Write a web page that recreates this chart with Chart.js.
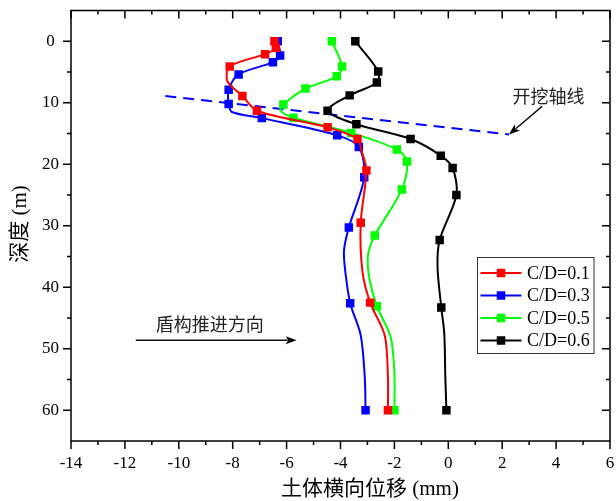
<!DOCTYPE html>
<html>
<head>
<meta charset="utf-8">
<script src="https://cdn.jsdelivr.net/npm/chart.js@4/dist/chart.umd.min.js"></script>
<style>
  html, body { margin: 0; padding: 0; background: #fff; }
  #wrap { width: 616px; height: 501px; position: relative; }
</style>
</head>
<body>
<div id="wrap"><canvas id="c" width="616" height="501"></canvas></div>
<script>
// Lateral soil displacement (mm) against depth (m) for four cover ratios.
const seriesLabels = ['C/D=0.1', 'C/D=0.3', 'C/D=0.5', 'C/D=0.6'];
const seriesColors = ['#ff0000', '#0000ff', '#00ff00', '#000000'];

// C/D = 0.1
const depth01 = [0, 1.1, 2.1, 4.1, 6.5, 8.9, 11.3, 14.0, 15.9, 17.8, 21.0, 29.5, 37.3, 42.5, 47.8, 54.6, 60];
const disp01  = [-6.45, -6.4, -6.8, -8.11, -8.2, -7.64, -7.1, -4.48, -3.37, -3.22, -3.04, -3.25, -3.19, -2.9, -2.36, -2.24, -2.24];
const mark01  = [1, 1, 1, 1, 0, 1, 1, 1, 1, 0, 1, 1, 0, 1, 0, 0, 1];

// C/D = 0.3
const depth03 = [0, 2.3, 3.4, 5.4, 7.9, 10.2, 11.5, 12.5, 15.3, 17.2, 22.1, 30.3, 34.0, 37.5, 42.6, 47.8, 54.6, 60];
const disp03  = [-6.33, -6.24, -6.51, -7.78, -8.15, -8.15, -8.03, -6.92, -4.12, -3.32, -3.12, -3.69, -3.87, -3.82, -3.64, -3.25, -3.1, -3.07];
const mark03  = [1, 1, 1, 1, 1, 1, 0, 1, 1, 1, 1, 1, 0, 0, 1, 0, 0, 1];

// C/D = 0.5
const depth05 = [0, 4.1, 5.7, 7.7, 10.3, 11.3, 12.45, 14.9, 17.6, 19.55, 24.1, 31.6, 34.8, 38.5, 43.1, 48.1, 54, 60];
const disp05  = [-4.32, -3.94, -4.14, -5.3, -6.12, -6.22, -5.75, -3.6, -1.91, -1.53, -1.72, -2.73, -2.98, -2.93, -2.65, -2.14, -2.0, -2.0];
const mark05  = [1, 1, 1, 1, 1, 0, 1, 1, 1, 1, 1, 1, 0, 0, 1, 0, 0, 1];

// C/D = 0.6
const depth06 = [0, 4.9, 6.7, 8.8, 11.3, 13.5, 15.9, 18.6, 20.6, 25.0, 32.3, 36.7, 43.3, 47.5, 54.6, 60];
const disp06  = [-3.45, -2.6, -2.65, -3.66, -4.48, -3.41, -1.4, -0.28, 0.16, 0.3, -0.32, -0.4, -0.26, -0.15, -0.11, -0.07];
const mark06  = [1, 1, 1, 1, 1, 1, 1, 1, 1, 1, 1, 0, 1, 0, 0, 1];

// Tunnel excavation axis (dashed) end points: [displacement, depth]
const axisLineX = [-10.5, 2.25];
const axisLineY = [8.9, 15.15];

// Axis ranges and tick steps
const xMin = -14, xMax = 6, xMinorStep = 1, xMajorStep = 2;
const yMin = -5, yMax = 65, yMinorStep = 5, yMajorStep = 10, yLabelMin = 0, yLabelMax = 60;

// Annotations (data units)
const advanceArrow = { from: [-11.6, 48.6], to: [-5.63, 48.6] };
const advanceText = { text: '盾构推进方向', at: [-8.85, 46.35] };
const axisArrow = { from: [3.48, 10.6], to: [2.25, 15.15] };
const axisText = { text: '开挖轴线', at: [3.72, 9.3] };

const xTitle = '土体横向位移 (mm)';
const yTitle = '深度 (m)';

const SERIF = '"Liberation Serif", "Times New Roman", "Noto Sans CJK SC", serif';
const CJK = '"Liberation Serif", "Noto Sans CJK SC", serif';

function makeSeries(i, xs, ys, marks) {
  return {
    label: seriesLabels[i],
    data: xs.map((v, k) => ({ x: v, y: ys[k] })),
    showLine: true,
    borderColor: seriesColors[i],
    backgroundColor: seriesColors[i],
    borderWidth: 2,
    tension: 0.3,
    pointStyle: 'rect',
    pointRadius: marks.map(m => (m ? 6 : 0)),
    pointBorderWidth: 0,
    pointBackgroundColor: seriesColors[i],
    pointHoverRadius: 0,
    order: 1
  };
}

const datasets = [
  makeSeries(0, disp01, depth01, mark01),
  makeSeries(1, disp03, depth03, mark03),
  makeSeries(2, disp05, depth05, mark05),
  makeSeries(3, disp06, depth06, mark06),
  {
    label: 'axis',
    data: axisLineX.map((v, k) => ({ x: v, y: axisLineY[k] })),
    showLine: true,
    borderColor: '#0000ff',
    borderWidth: 2,
    borderDash: [11, 7],
    pointRadius: 0,
    tension: 0,
    order: 2
  }
];

function arrow(ctx, x1, y1, x2, y2, len, half) {
  const a = Math.atan2(y2 - y1, x2 - x1);
  ctx.beginPath();
  ctx.moveTo(x1, y1);
  ctx.lineTo(x2 - Math.cos(a) * len * 0.8, y2 - Math.sin(a) * len * 0.8);
  ctx.stroke();
  ctx.beginPath();
  ctx.moveTo(x2, y2);
  ctx.lineTo(x2 - Math.cos(a) * len - Math.sin(a) * half, y2 - Math.sin(a) * len + Math.cos(a) * half);
  ctx.lineTo(x2 - Math.cos(a) * len * 0.75, y2 - Math.sin(a) * len * 0.75);
  ctx.lineTo(x2 - Math.cos(a) * len + Math.sin(a) * half, y2 - Math.sin(a) * len - Math.cos(a) * half);
  ctx.closePath();
  ctx.fill();
}

const decorations = {
  id: 'decorations',
  afterDraw(chart) {
    const ctx = chart.ctx;
    const a = chart.chartArea;
    const sx = chart.scales.x, sy = chart.scales.y;
    const px = v => sx.getPixelForValue(v);
    const py = v => sy.getPixelForValue(v);
    ctx.save();

    // frame
    ctx.strokeStyle = '#000';
    ctx.lineWidth = 1.5;
    ctx.strokeRect(a.left, a.top, a.right - a.left, a.bottom - a.top);

    // tick marks: outward on bottom/left, inward on top/right
    ctx.lineWidth = 1.5;
    ctx.beginPath();
    for (let v = xMin; v <= xMax + 1e-9; v += xMinorStep) {
      const major = Math.abs(v % xMajorStep) < 1e-9;
      const L = major ? 8 : 4;
      const x = px(v);
      ctx.moveTo(x, a.bottom); ctx.lineTo(x, a.bottom + L);
      ctx.moveTo(x, a.top); ctx.lineTo(x, a.top + L);
    }
    for (let v = yLabelMin; v <= yLabelMax + 1e-9; v += yMinorStep) {
      const major = Math.abs(v % yMajorStep) < 1e-9;
      const L = major ? 8 : 4;
      const y = py(v);
      ctx.moveTo(a.left, y); ctx.lineTo(a.left - L, y);
      ctx.moveTo(a.right, y); ctx.lineTo(a.right - L, y);
    }
    ctx.stroke();

    // axis titles
    ctx.fillStyle = '#000';
    ctx.textAlign = 'center';
    ctx.textBaseline = 'middle';
    ctx.font = '21px ' + CJK;
    ctx.fillText(xTitle, 370, 489);
    ctx.save();
    ctx.translate(20, 224);
    ctx.rotate(-Math.PI / 2);
    ctx.fillText(yTitle, 0, 0);
    ctx.restore();

    // annotations
    ctx.fillStyle = '#222';
    ctx.strokeStyle = '#111';
    ctx.lineWidth = 1.5;
    ctx.font = '18px ' + CJK;
    ctx.fillText(advanceText.text, px(advanceText.at[0]), py(advanceText.at[1]));
    ctx.fillText(axisText.text, px(axisText.at[0]), py(axisText.at[1]));
    ctx.fillStyle = '#000';
    arrow(ctx, px(advanceArrow.from[0]), py(advanceArrow.from[1]), px(advanceArrow.to[0]), py(advanceArrow.to[1]), 11, 4);
    arrow(ctx, px(axisArrow.from[0]), py(axisArrow.from[1]), px(axisArrow.to[0]), py(axisArrow.to[1]), 11, 4);

    // legend
    const bx = 477.5, by = 257.5, bw = 116.5, bh = 96;
    ctx.fillStyle = '#fff';
    ctx.fillRect(bx, by, bw, bh);
    ctx.strokeStyle = '#333';
    ctx.lineWidth = 1;
    ctx.strokeRect(bx, by, bw, bh);
    ctx.font = '18px ' + SERIF;
    ctx.textAlign = 'left';
    seriesLabels.forEach((lab, i) => {
      const y = by + 15.5 + i * 22.5;
      ctx.strokeStyle = seriesColors[i];
      ctx.lineWidth = 2;
      ctx.beginPath();
      ctx.moveTo(480.5, y); ctx.lineTo(521.5, y);
      ctx.stroke();
      ctx.fillStyle = seriesColors[i];
      ctx.fillRect(501 - 4.25, y - 4.25, 8.5, 8.5);
      ctx.fillStyle = '#000';
      ctx.fillText(lab, 527, y + 1);
    });
    ctx.restore();
  }
};

new Chart(document.getElementById('c'), {
  type: 'scatter',
  data: { datasets },
  options: {
    responsive: false,
    animation: false,
    events: [],
    layout: { padding: { top: 10.5, right: 3, left: 0, bottom: 0 } },
    plugins: { legend: { display: false }, tooltip: { enabled: false } },
    scales: {
      x: {
        type: 'linear',
        min: xMin, max: xMax,
        grid: { display: false, drawTicks: false },
        border: { display: false },
        ticks: {
          stepSize: xMinorStep,
          autoSkip: false,
          maxRotation: 0,
          padding: 12,
          color: '#000',
          font: { family: SERIF, size: 17 },
          callback: v => (Math.abs(v % xMajorStep) < 1e-9 ? String(v) : '')
        },
        afterFit(s) { s.height = 60; s.paddingLeft = 0; s.paddingRight = 0; }
      },
      y: {
        type: 'linear',
        reverse: true,
        min: yMin, max: yMax,
        grid: { display: false, drawTicks: false },
        border: { display: false },
        ticks: {
          stepSize: yMinorStep,
          autoSkip: false,
          padding: 12,
          crossAlign: 'center',
          color: '#000',
          font: { family: SERIF, size: 17 },
          callback: v => (Math.abs(v % yMajorStep) < 1e-9 && v >= yLabelMin && v <= yLabelMax ? String(v) : '')
        },
        afterFit(s) { s.width = 71; s.paddingTop = 0; s.paddingBottom = 0; }
      }
    }
  },
  plugins: [decorations]
});
</script>
</body>
</html>
